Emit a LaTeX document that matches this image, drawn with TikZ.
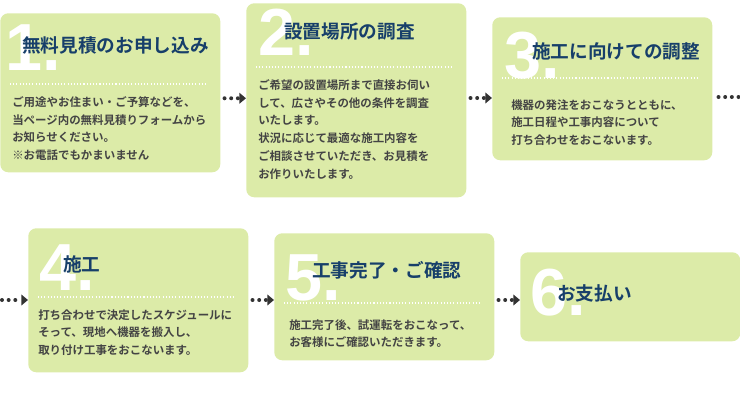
\documentclass[tikz,border=0pt]{standalone}
\usepackage{fontspec}
\setmainfont{Liberation Sans}
\newfontfamily\jp{Noto Sans CJK JP}[BoldFont={Noto Sans CJK JP Bold}]
\usetikzlibrary{arrows.meta}
\definecolor{cardgreen}{HTML}{DCEBA8}
\definecolor{titlenavy}{HTML}{173F6A}
\definecolor{bodygray}{HTML}{444444}
\definecolor{arrowgray}{HTML}{333333}
\tikzset{
  card/.style={fill=cardgreen, rounded corners=6pt, minimum width=220*0.0264cm, anchor=north west, inner sep=0pt},
  bignum/.style={anchor=base west, text=white, font=\fontsize{50}{50}\selectfont\bfseries, inner sep=0pt},
  cardtitle/.style={anchor=base west, text=titlenavy, font=\jp\fontsize{14}{14}\selectfont\bfseries, inner sep=0pt},
  cardbody/.style={anchor=north west, text=bodygray, align=left, font=\jp\fontsize{8.6}{13.4}\selectfont\bfseries, inner sep=0pt},
  sepline/.style={white, line width=0.8pt, dash pattern=on 0.8pt off 1.6pt},
  flowarrow/.style={arrowgray, line width=3pt, line cap=round, dash pattern=on 0pt off 5pt, -{Triangle[length=5pt,width=8pt]}},
  flowdots/.style={arrowgray, line width=3pt, line cap=round, dash pattern=on 0pt off 5pt}
}
\begin{document}
\begin{tikzpicture}[x=0.0264cm,y=-0.0264cm]
    \useasboundingbox (0,0) rectangle (740,409);

    % Cards
    \node[card, minimum height=159*0.0264cm] (c1) at (0,13) {};
    \node[card, minimum height=194*0.0264cm] (c2) at (246,3) {};
    \node[card, minimum height=143*0.0264cm] (c3) at (492,17) {};
    \node[card, minimum height=144*0.0264cm] (c4) at (28,228) {};
    \node[card, minimum height=127*0.0264cm] (c5) at (274,233) {};
    \node[card, minimum height=89*0.0264cm] (c6) at (520,252) {};

    % Numbers
    \node[bignum] (n1) at (5,70) {1.};
    \node[bignum] (n2) at (258,55) {2.};
    \node[bignum] (n3) at (504,78) {3.};
    \node[bignum] (n4) at (39,290) {4.};
    \node[bignum] (n5) at (285,300) {5.};
    \node[bignum] (n6) at (530,315) {6.};

    % Titles
    \node[cardtitle] (t1) at (22,52) {無料見積のお申し込み};
    \node[cardtitle] (t2) at (284,38) {設置場所の調査};
    \node[cardtitle] (t3) at (532,58) {施工に向けての調整};
    \node[cardtitle] (t4) at (63,271) {施工};
    \node[cardtitle] (t5) at (312,277) {工事完了・ご確認};
    \node[cardtitle] (t6) at (557,300) {お支払い};

    % Separators
    \draw[sepline] (10,84) -- (208,84);
    \draw[sepline] (256,67) -- (454,67);
    \draw[sepline] (502,78) -- (700,78);
    \draw[sepline] (38,297) -- (236,297);
    \draw[sepline] (284,303) -- (482,303);

    % Body texts
    \node[cardbody] (b1) at (12,96) {ご用途やお住まい・ご予算などを、\\当ページ内の無料見積りフォームから\\お知らせください。\\※お電話でもかまいません};
    \node[cardbody] (b2) at (258,79) {ご希望の設置場所まで直接お伺い\\して、広さやその他の条件を調査\\いたします。\\状況に応じて最適な施工内容を\\ご相談させていただき、お見積を\\お作りいたします。};
    \node[cardbody] (b3) at (511,99) {機器の発注をおこなうとともに、\\施工日程や工事内容について\\打ち合わせをおこないます。};
    \node[cardbody] (b4) at (38,309) {打ち合わせで決定したスケジュールに\\そって、現地へ機器を搬入し、\\取り付け工事をおこないます。};
    \node[cardbody] (b5) at (289,319) {施工完了後、試運転をおこなって、\\お客様にご確認いただきます。};

    % Connectors
    \coordinate (e3) at (740,97);
    \coordinate (s4) at (2,300);
    \draw[flowarrow] ([yshift=-5.5*0.0264cm]c1.east) ++(4,0) -- ([yshift=-5.5*0.0264cm]c1.east -| c2.west);
    \draw[flowarrow] ([xshift=4*0.0264cm]c2.east |- 0,98) -- (c3.west |- 0,98);
    \draw[flowdots] ([xshift=6*0.0264cm]c3.east |- e3) -- (e3);
    \draw[flowarrow] (s4) -- (s4 -| c4.west);
    \draw[flowarrow] ([xshift=4*0.0264cm]c4.east |- 0,300) -- (c5.west |- 0,300);
    \draw[flowarrow] ([xshift=4*0.0264cm]c5.east |- 0,300) -- (c6.west |- 0,300);
\end{tikzpicture}
\end{document}
